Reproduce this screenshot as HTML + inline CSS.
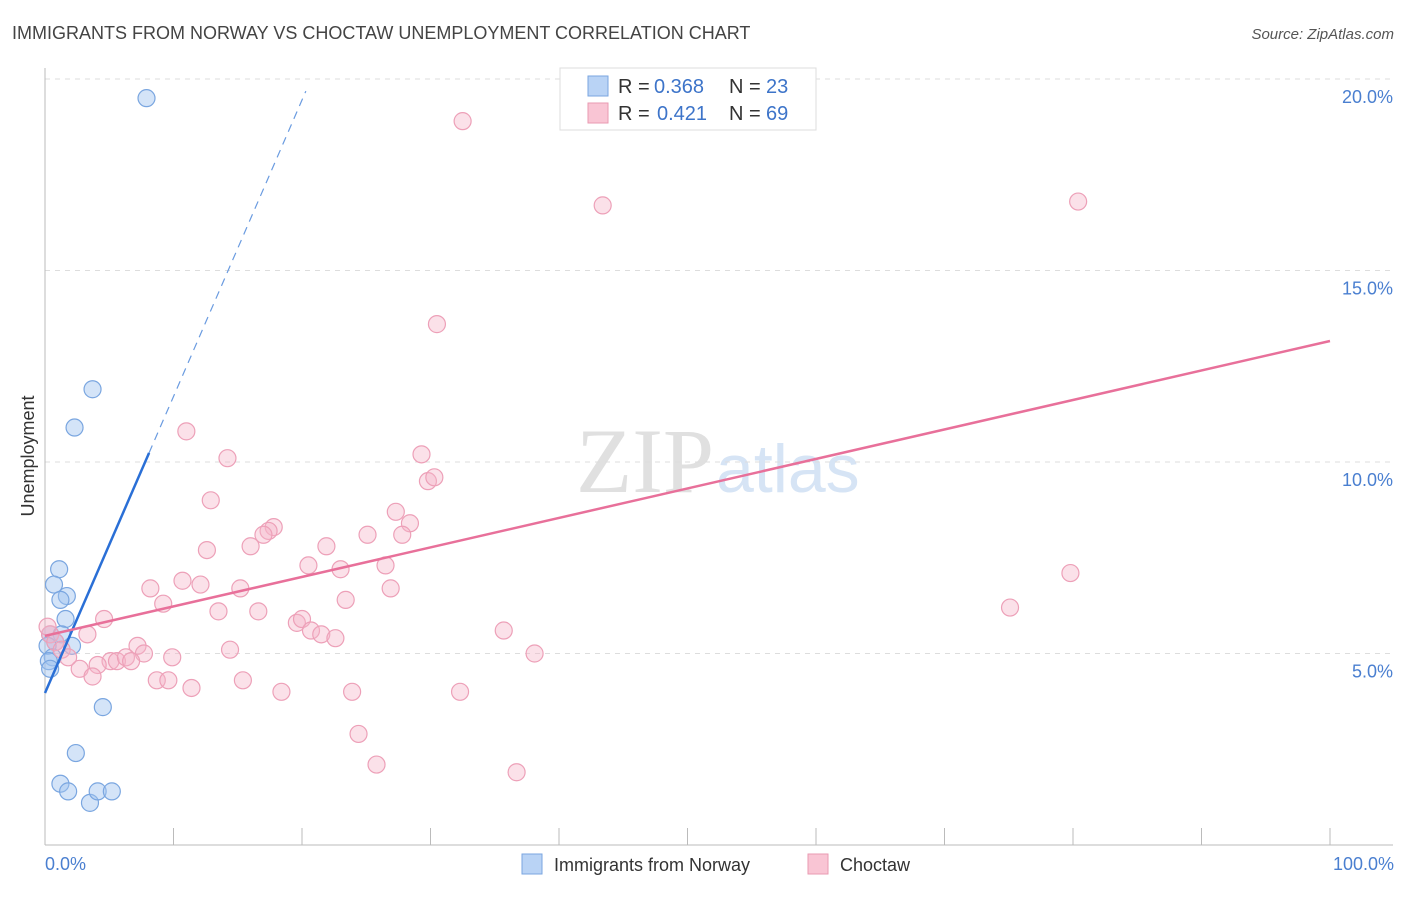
<!DOCTYPE html>
<html><head><meta charset="utf-8"><style>
body{margin:0;background:#fff;font-family:"Liberation Sans",sans-serif;}
</style></head><body>
<svg width="1406" height="892" xmlns="http://www.w3.org/2000/svg">
<text x="12" y="39" font-size="18" fill="#444">IMMIGRANTS FROM NORWAY VS CHOCTAW UNEMPLOYMENT CORRELATION CHART</text>
<text x="1394" y="39" font-size="15" fill="#555" font-style="italic" text-anchor="end">Source: ZipAtlas.com</text>
<text x="714" y="492" font-size="92" fill="#e0e0e0" text-anchor="end" font-family="Liberation Serif,serif">ZIP</text>
<text x="716" y="492" font-size="68" fill="#d6e4f5">atlas</text>
<g id="grid"></g><g id="axes"></g><g id="pts"></g><g id="lines"></g>
<text x="34" y="456" font-size="18" fill="#333" text-anchor="middle" transform="rotate(-90 34 456)">Unemployment</text>
<text x="45" y="870" font-size="18" fill="#4a7fd0">0.0%</text>
<text x="1394" y="870" font-size="18" fill="#4a7fd0" text-anchor="end">100.0%</text>
<g font-size="20">
<rect x="560" y="68" width="256" height="62" fill="#fff" stroke="#ddd"/>
<rect x="588" y="76" width="20" height="20" fill="#b9d3f5" stroke="#7aa6e0"/>
<rect x="588" y="103" width="20" height="20" fill="#f9c5d4" stroke="#e99ab2"/>
<text x="618" y="93" fill="#333">R =</text><text x="654" y="93" fill="#3d74c9">0.368</text>
<text x="729" y="93" fill="#333">N =</text><text x="766" y="93" fill="#3d74c9">23</text>
<text x="618" y="120" fill="#333">R =</text><text x="657" y="120" fill="#3d74c9">0.421</text>
<text x="729" y="120" fill="#333">N =</text><text x="766" y="120" fill="#3d74c9">69</text>
</g>
<g>
<rect x="522" y="854" width="20" height="20" fill="#b9d3f5" stroke="#7aa6e0"/>
<text x="554" y="871" font-size="18" fill="#333">Immigrants from Norway</text>
<rect x="808" y="854" width="20" height="20" fill="#f9c5d4" stroke="#e99ab2"/>
<text x="840" y="871" font-size="18" fill="#333">Choctaw</text>
</g>
</svg>
<script>
const yTicks=[5,10,15,20];
const xTicks=[0,10,20,30,40,50,60,70,80,90,100];
const blueX=[7.9,3.7,2.3,1.1,0.7,1.7,1.2,1.6,0.4,1.3,2.1,0.8,0.2,0.6,0.3,0.4,4.5,2.4,1.2,1.8,3.5,4.1,5.2];
const blueY=[19.5,11.9,10.9,7.2,6.8,6.5,6.4,5.9,5.5,5.5,5.2,5.3,5.2,4.9,4.8,4.6,3.6,2.4,1.6,1.4,1.1,1.4,1.4];
const pinkX=[32.5,43.4,80.4,30.5,11.0,14.2,29.3,12.9,29.8,30.3,27.3,28.4,27.8,17.8,17.4,17.0,16.0,21.9,25.1,12.6,20.5,23.0,26.5,8.2,10.7,12.1,15.2,26.9,9.2,23.4,13.5,16.6,4.6,19.6,20.0,20.7,21.5,22.6,3.3,35.7,7.2,14.4,38.1,7.7,9.9,5.1,5.6,6.3,6.7,4.1,2.7,3.7,8.7,9.6,11.4,15.4,18.4,23.9,32.3,24.4,25.8,36.7,79.8,75.1,0.4,0.8,1.3,1.8,0.2];
const pinkY=[18.9,16.7,16.8,13.6,10.8,10.1,10.2,9.0,9.5,9.6,8.7,8.4,8.1,8.3,8.2,8.1,7.8,7.8,8.1,7.7,7.3,7.2,7.3,6.7,6.9,6.8,6.7,6.7,6.3,6.4,6.1,6.1,5.9,5.8,5.9,5.6,5.5,5.4,5.5,5.6,5.2,5.1,5.0,5.0,4.9,4.8,4.8,4.9,4.8,4.7,4.6,4.4,4.3,4.3,4.1,4.3,4.0,4.0,4.0,2.9,2.1,1.9,7.1,6.2,5.5,5.3,5.1,4.9,5.7];
const blueFit=[3.97,0.774];
const pinkFit=[5.46,0.077];
const X=v=>45+v*12.85, Y=v=>845-v*38.3;
const NS="http://www.w3.org/2000/svg";
function mk(p,t,a){const e=document.createElementNS(NS,t);for(const k in a)e.setAttribute(k,a[k]);document.getElementById(p).appendChild(e);return e;}
yTicks.forEach(t=>{
 const l=mk('grid','line',{x1:45,x2:1393,y1:Y(t),y2:Y(t),stroke:'#ddd','stroke-dasharray':'5,5'});
 
 
 const tx=mk('grid','text',{x:1393,y:Y(t)+24,'font-size':18,fill:'#4a7fd0','text-anchor':'end'});
 tx.textContent=t.toFixed(1)+'%';
 
 
});
mk('axes','line',{x1:45,x2:45,y1:68,y2:845,stroke:'#bbb'});
mk('axes','line',{x1:45,x2:1393,y1:845,y2:845,stroke:'#bbb'});
xTicks.forEach(t=>{const l=mk('axes','line',{x1:X(t),x2:X(t),y1:828,y2:845,stroke:'#bbb'});
 
 });
blueX.forEach((x,i)=>{const c=mk('pts','circle',{cx:X(x),cy:Y(blueY[i]),r:8.5,fill:'rgba(160,195,240,0.45)',stroke:'#7aa6e0','stroke-width':1.2});
 
 });
pinkX.forEach((x,i)=>{const c=mk('pts','circle',{cx:X(x),cy:Y(pinkY[i]),r:8.5,fill:'rgba(246,180,200,0.4)',stroke:'#eda0b8','stroke-width':1.2});
 
 });
const bl=mk('lines','line',{x1:X(0),y1:Y(blueFit[0]),x2:X(8.1),y2:Y(blueFit[0]+blueFit[1]*8.1),stroke:'#2a6fd6','stroke-width':2.5});


const bd=mk('lines','line',{x1:X(8.1),y1:Y(blueFit[0]+blueFit[1]*8.1),x2:X(20.3),y2:Y(blueFit[0]+blueFit[1]*20.3),stroke:'#6a9be0','stroke-width':1.2,'stroke-dasharray':'8,6'});


const pl=mk('lines','line',{x1:X(0),y1:Y(pinkFit[0]),x2:X(100),y2:Y(pinkFit[0]+pinkFit[1]*100),stroke:'#e8709a','stroke-width':2.5});


</script>
</body></html>
